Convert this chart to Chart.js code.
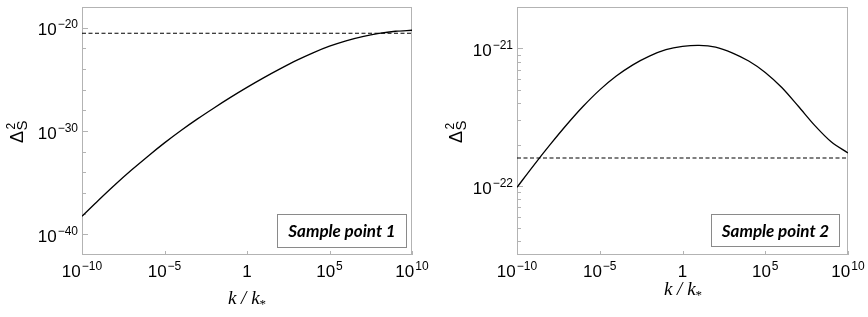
<!DOCTYPE html>
<html>
<head>
<meta charset="utf-8">
<script src="https://cdn.jsdelivr.net/npm/chart.js@4/dist/chart.umd.min.js"></script>
<style>
  html, body { margin: 0; padding: 0; background: #fff; }
  #wrap { position: relative; width: 868px; height: 317px; }
  canvas { position: absolute; top: 0; }
  #c1 { left: 0; }
  #c2 { left: 434px; }
</style>
</head>
<body>
<div id="wrap">
  <canvas id="c1" width="434" height="317"></canvas>
  <canvas id="c2" width="434" height="317"></canvas>
</div>
<script>
// k / k_* sample points (one per decade)
const kValues = [1e-10, 1e-9, 1e-8, 1e-7, 1e-6, 1e-5, 1e-4, 1e-3, 1e-2, 1e-1, 1,
                 1e1, 1e2, 1e3, 1e4, 1e5, 1e6, 1e7, 1e8, 1e9, 1e10];

// Delta_S^2 for sample point 1 and sample point 2
const spectrum1 = [5.6e-39, 2.0e-37, 6.3e-36, 1.66e-34, 3.7e-33, 7.1e-32, 1.12e-30, 1.48e-29, 1.70e-28, 1.78e-27, 1.66e-26,
                   1.38e-25, 1.02e-24, 6.8e-24, 3.7e-23, 1.62e-22, 5.4e-22, 1.38e-21, 2.8e-21, 4.5e-21, 5.6e-21];
const spectrum2 = [9.8e-23, 1.41e-22, 2.0e-22, 2.79e-22, 3.8e-22, 5.0e-22, 6.3e-22, 7.6e-22, 8.8e-22, 9.8e-22, 1.035e-21,
                   1.054e-21, 1.023e-21, 9.3e-22, 8.1e-22, 6.7e-22, 5.2e-22, 3.8e-22, 2.75e-22, 2.09e-22, 1.74e-22];

// dashed horizontal reference levels
const threshold1 = 2.9e-21;
const threshold2 = 1.6e-22;

// axis ticks
const xTicks = [1e-10, 1e-5, 1, 1e5, 1e10];
const yMajor1 = [1e-20, 1e-30, 1e-40];
const yMinor1 = [1e-22, 1e-24, 1e-26, 1e-28, 1e-32, 1e-34, 1e-36, 1e-38];
const yMajor2 = [1e-21, 1e-22];
const yMinor2 = [4e-23, 5e-23, 6e-23, 7e-23, 8e-23, 9e-23, 2e-22, 3e-22, 4e-22, 5e-22, 6e-22, 7e-22, 8e-22, 9e-22];

const legendLabels = ['Sample point 1', 'Sample point 2'];

const SANS = '"Liberation Sans", Arial, sans-serif';
const SERIF = '"Liberation Serif", "Times New Roman", serif';

// "10" with a raised exponent, or "1" for 10^0
function drawPower(ctx, value, x, y, align) {
  const exp = Math.round(Math.log10(value));
  const base = exp === 0 ? '1' : '10';
  const sup = exp === 0 ? '' : (exp < 0 ? '\u2212' + (-exp) : String(exp));
  ctx.font = '17px ' + SANS;
  const wb = ctx.measureText(base).width;
  ctx.font = '12px ' + SANS;
  const ws = sup ? ctx.measureText(sup).width + 1 : 0;
  const x0 = align === 'center' ? x - (wb + ws) / 2 : x - (wb + ws);
  ctx.textAlign = 'left';
  ctx.textBaseline = 'alphabetic';
  ctx.font = '17px ' + SANS;
  ctx.fillText(base, x0, y);
  if (sup) {
    ctx.font = '12px ' + SANS;
    ctx.fillText(sup, x0 + wb + 1, y - 7);
  }
}

const framePlugin = {
  id: 'frame',
  beforeDatasetsDraw(chart, args, o) {
    const { ctx, chartArea: a, scales: { x, y } } = chart;
    ctx.save();
    ctx.strokeStyle = '#b3b3b3';
    ctx.lineWidth = 1;
    ctx.strokeRect(a.left + 0.5, a.top + 0.5, a.right - a.left - 1, a.bottom - a.top - 1);
    ctx.beginPath();
    xTicks.forEach(v => {
      const px = Math.round(x.getPixelForValue(v)) + 0.5;
      ctx.moveTo(px, a.bottom);
      ctx.lineTo(px, a.bottom - 4);
    });
    o.yMajor.forEach(v => {
      const py = Math.round(y.getPixelForValue(v)) + 0.5;
      ctx.moveTo(a.left, py);
      ctx.lineTo(a.left + 6, py);
    });
    o.yMinor.forEach(v => {
      const py = Math.round(y.getPixelForValue(v)) + 0.5;
      ctx.moveTo(a.left, py);
      ctx.lineTo(a.left + 4, py);
    });
    ctx.stroke();
    ctx.restore();
  },
  afterDraw(chart, args, o) {
    const { ctx, chartArea: a, scales: { x, y } } = chart;
    ctx.save();
    ctx.fillStyle = '#000';
    xTicks.forEach(v => drawPower(ctx, v, x.getPixelForValue(v), 277, 'center'));
    o.yMajor.forEach(v => drawPower(ctx, v, a.left - 4, y.getPixelForValue(v) + 7.5, 'right'));

    // y title: Delta_S^2, rotated
    ctx.save();
    ctx.translate(o.yTitle[0], o.yTitle[1]);
    ctx.rotate(-Math.PI / 2);
    ctx.textAlign = 'left';
    ctx.textBaseline = 'alphabetic';
    ctx.font = '18px ' + SANS;
    ctx.fillText('\u0394', 0, 0);
    const wd = ctx.measureText('\u0394').width;
    ctx.font = '15px ' + SANS;
    ctx.fillText('S', wd + 0.5, 4);
    ctx.font = '12px ' + SANS;
    ctx.fillText('2', wd + 1.5, -8);
    ctx.restore();

    // x title: k / k_*
    ctx.font = 'italic 19px ' + SERIF;
    const main = 'k / k';
    const wm = ctx.measureText(main).width;
    ctx.font = '13px ' + SERIF;
    const wa = ctx.measureText('*').width;
    const x0 = o.xTitle[0] - (wm + wa) / 2;
    ctx.textAlign = 'left';
    ctx.font = 'italic 19px ' + SERIF;
    ctx.fillText(main, x0, o.xTitle[1]);
    ctx.font = '13px ' + SERIF;
    ctx.fillText('*', x0 + wm, o.xTitle[1] + 4);

    // legend box
    const [bx, by, bw, bh] = o.box;
    ctx.fillStyle = '#fff';
    ctx.fillRect(bx, by, bw, bh);
    ctx.strokeStyle = '#8a8a8a';
    ctx.lineWidth = 1;
    ctx.strokeRect(bx + 0.5, by + 0.5, bw - 1, bh - 1);
    ctx.fillStyle = '#000';
    ctx.font = 'italic bold 17px Lato, "Open Sans", sans-serif';
    ctx.textAlign = 'center';
    ctx.textBaseline = 'middle';
    ctx.fillText(o.label, bx + bw / 2, by + bh / 2 + 1);
    ctx.restore();
  }
};

function makeChart(id, series, threshold, yMin, yMax, leftW, rightPad, frame) {
  const curve = kValues.map((k, i) => ({ x: k, y: series[i] }));
  const level = [{ x: kValues[0], y: threshold }, { x: kValues[kValues.length - 1], y: threshold }];
  return new Chart(document.getElementById(id), {
    type: 'line',
    data: {
      datasets: [
        { data: curve, borderColor: '#000', borderWidth: 1.3, pointRadius: 0, tension: 0.3, fill: false },
        { data: level, borderColor: '#000', borderWidth: 1.1, borderDash: [4, 2.5], pointRadius: 0, fill: false }
      ]
    },
    options: {
      responsive: false,
      animation: false,
      devicePixelRatio: 1,
      layout: { padding: { top: 7, right: rightPad, left: 0, bottom: 0 } },
      plugins: { legend: { display: false }, tooltip: { enabled: false }, frame: frame },
      scales: {
        x: {
          type: 'logarithmic', min: 1e-10, max: 1e10,
          grid: { display: false }, border: { display: false }, ticks: { display: false },
          afterFit(s) { s.height = 62; }
        },
        y: {
          type: 'logarithmic', min: yMin, max: yMax,
          grid: { display: false }, border: { display: false }, ticks: { display: false },
          afterFit(s) { s.width = leftW; }
        }
      }
    },
    plugins: [framePlugin]
  });
}

makeChart('c1', spectrum1, threshold1, 1e-42, 1e-18, 82, 22, {
  yMajor: yMajor1, yMinor: yMinor1, label: legendLabels[0],
  box: [277, 214, 130, 34], yTitle: [23, 143], xTitle: [247, 304]
});
makeChart('c2', spectrum2, threshold2, 3.16e-23, 2e-21, 83, 20, {
  yMajor: yMajor2, yMinor: yMinor2, label: legendLabels[1],
  box: [277, 214, 129, 33], yTitle: [28, 143], xTitle: [249, 295]
});
</script>
</body>
</html>
